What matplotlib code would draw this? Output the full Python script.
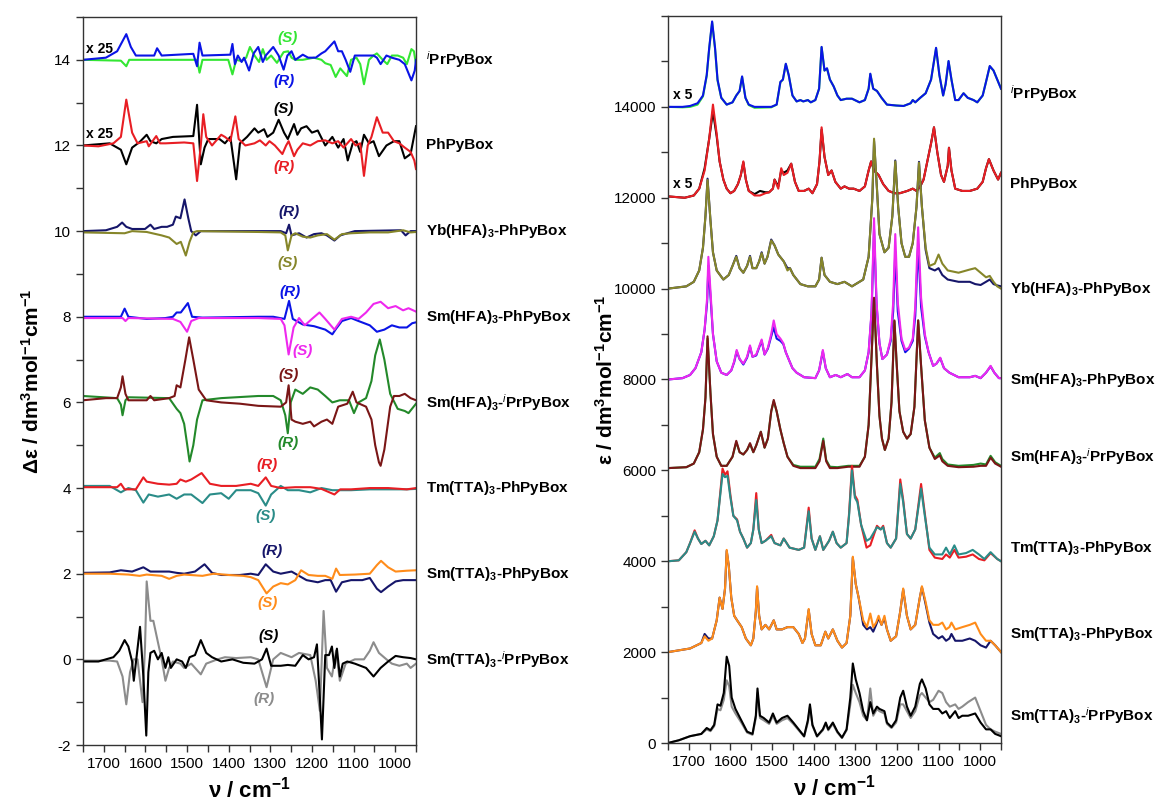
import matplotlib
matplotlib.use("Agg")
import matplotlib.pyplot as plt
from matplotlib.ticker import MultipleLocator

plt.rcParams["font.family"] = ["Liberation Sans", "DejaVu Sans"]
plt.rcParams["mathtext.fontset"] = "custom"
plt.rcParams["mathtext.rm"] = "Liberation Sans"
plt.rcParams["mathtext.bf"] = "Liberation Sans:bold"
plt.rcParams["mathtext.it"] = "Liberation Sans:italic"
plt.rcParams["axes.unicode_minus"] = False

# ---------------- VCD (left), (wavenumber, delta eps + offset) ----------------
vcd_ipr_R = [(1750, 14.0), (1695, 14.05), (1668, 14.2), (1646, 14.6), (1635, 14.3), (1623, 14.1),
             (1579, 14.1), (1572, 14.27), (1561, 14.1), (1485, 14.14), (1476, 13.85), (1470, 14.4),
             (1463, 14.1), (1396, 14.12), (1391, 14.37), (1385, 13.9), (1378, 14.1), (1369, 13.95),
             (1363, 14.05), (1351, 13.75), (1340, 14.15), (1329, 14.3), (1318, 13.95), (1311, 14.1),
             (1293, 14.3), (1280, 14.1), (1268, 13.77), (1259, 14.1), (1249, 14.2), (1240, 14.0),
             (1222, 14.12), (1209, 14.05), (1191, 14.05), (1177, 14.15), (1168, 14.2), (1146, 14.43),
             (1137, 14.2), (1128, 14.2), (1119, 14.0), (1108, 13.72), (1097, 14.1), (1075, 14.1),
             (1052, 14.1), (1044, 14.05), (1035, 13.9), (1021, 14.1), (1008, 14.05), (990, 14.0),
             (977, 13.9), (961, 13.52), (953, 13.75), (950, 14.0)]
vcd_ipr_S = [(1750, 14.0), (1659, 13.98), (1646, 13.85), (1639, 14.0), (1476, 14.0), (1470, 13.7),
             (1463, 14.0), (1401, 14.0), (1391, 13.66), (1382, 14.0), (1369, 13.97), (1358, 14.05),
             (1349, 14.3), (1338, 14.1), (1327, 13.95), (1318, 14.25), (1309, 14.0), (1298, 14.1),
             (1284, 13.93), (1268, 14.18), (1257, 14.2), (1249, 14.05), (1240, 14.0), (1222, 14.0),
             (1195, 14.05), (1177, 14.0), (1168, 13.92), (1155, 13.88), (1143, 13.6), (1132, 13.8),
             (1116, 13.62), (1106, 14.0), (1093, 14.05), (1084, 13.9), (1075, 13.43), (1063, 14.0),
             (1052, 14.1), (1044, 14.15), (1030, 14.0), (1019, 13.9), (1008, 14.1), (994, 14.1),
             (981, 14.05), (972, 13.9), (961, 14.25), (955, 14.2), (950, 13.9)]
vcd_ph_R = [(1750, 12.0), (1713, 11.98), (1677, 12.05), (1659, 12.2), (1646, 13.07), (1632, 12.3),
            (1619, 12.05), (1597, 12.1), (1592, 11.98), (1574, 12.22), (1565, 12.05), (1552, 12.05),
            (1507, 12.07), (1485, 12.05), (1476, 11.17), (1467, 12.0), (1461, 12.73), (1454, 12.2),
            (1440, 12.0), (1418, 12.25), (1409, 12.2), (1396, 12.1), (1384, 12.68), (1376, 12.15),
            (1360, 12.0), (1338, 12.05), (1325, 12.12), (1311, 12.0), (1302, 12.1), (1289, 12.0),
            (1271, 11.8), (1262, 12.0), (1256, 12.1), (1243, 11.75), (1235, 11.9), (1222, 12.05),
            (1204, 12.0), (1186, 12.1), (1168, 12.12), (1151, 12.05), (1137, 12.1), (1124, 11.95),
            (1106, 12.15), (1095, 12.0), (1084, 12.05), (1075, 11.29), (1066, 12.0), (1057, 12.2),
            (1044, 12.66), (1030, 12.3), (1017, 12.3), (1003, 12.1), (990, 12.05), (977, 11.95),
            (963, 11.85), (954, 11.65), (950, 11.45)]
vcd_ph_S = [(1750, 12.0), (1686, 12.05), (1659, 11.9), (1646, 11.56), (1632, 11.95), (1614, 12.08),
            (1597, 12.25), (1588, 12.1), (1574, 12.05), (1561, 12.15), (1534, 12.2), (1485, 12.22),
            (1476, 12.95), (1467, 11.56), (1458, 11.95), (1449, 12.15), (1422, 12.15), (1409, 12.05),
            (1396, 12.2), (1382, 11.21), (1373, 12.05), (1356, 12.2), (1338, 12.4), (1329, 12.3),
            (1315, 12.38), (1307, 12.2), (1293, 12.3), (1280, 12.6), (1267, 12.3), (1258, 12.15),
            (1243, 12.5), (1235, 12.25), (1226, 12.4), (1213, 12.45), (1200, 12.3), (1186, 12.35),
            (1168, 12.0), (1151, 12.2), (1137, 11.95), (1124, 12.15), (1114, 11.65), (1102, 12.05),
            (1093, 12.1), (1084, 11.85), (1075, 12.25), (1063, 12.05), (1052, 12.1), (1039, 11.75),
            (1021, 12.0), (1003, 12.1), (990, 12.1), (977, 11.7), (963, 11.8), (950, 12.45)]
vcd_yb_R = [(1750, 10.0), (1695, 10.02), (1668, 10.1), (1656, 10.2), (1646, 10.1), (1632, 10.05),
            (1601, 10.05), (1588, 10.15), (1579, 10.05), (1561, 10.1), (1548, 10.1), (1534, 10.15),
            (1527, 10.34), (1516, 10.3), (1506, 10.74), (1497, 10.3), (1490, 10.0), (1479, 9.9),
            (1467, 10.0), (1329, 10.0), (1275, 10.0), (1262, 9.95), (1255, 10.15), (1249, 9.9),
            (1231, 9.95), (1213, 9.85), (1195, 9.93), (1177, 9.95), (1164, 9.9), (1146, 9.78),
            (1132, 9.9), (1115, 9.95), (1097, 10.0), (986, 10.02), (975, 9.9), (963, 10.0), (950, 10.0)]
vcd_yb_S = [(1750, 9.97), (1650, 9.95), (1632, 10.0), (1597, 9.98), (1561, 9.9), (1543, 9.85),
            (1525, 9.7), (1515, 9.75), (1503, 9.43), (1494, 9.75), (1485, 9.97), (1476, 10.0),
            (1329, 9.98), (1275, 9.97), (1264, 9.9), (1258, 9.55), (1249, 9.9), (1240, 9.95),
            (1222, 9.87), (1204, 9.85), (1186, 9.9), (1164, 9.93), (1146, 9.8), (1128, 9.93),
            (1106, 9.95), (1061, 9.97), (1017, 9.97), (981, 10.02), (963, 9.97), (950, 9.98)]
vcd_smhfaph_R = [(1750, 8.0), (1659, 8.0), (1650, 8.19), (1641, 8.0), (1597, 7.95), (1552, 7.97),
                 (1534, 8.0), (1525, 8.1), (1515, 8.1), (1498, 8.32), (1488, 8.0), (1463, 7.98),
                 (1329, 8.0), (1293, 8.0), (1266, 7.95), (1255, 8.37), (1246, 7.95), (1222, 7.82),
                 (1195, 7.78), (1168, 7.7), (1151, 7.59), (1142, 7.72), (1128, 7.9), (1106, 7.97),
                 (1088, 7.9), (1061, 7.8), (1044, 7.65), (1026, 7.7), (1008, 7.8), (990, 7.75),
                 (972, 7.75), (959, 7.85), (950, 7.87)]
vcd_smhfaph_S = [(1750, 7.97), (1655, 7.97), (1648, 7.9), (1641, 7.97), (1534, 7.95), (1516, 7.88),
                 (1500, 7.65), (1490, 7.9), (1472, 7.97), (1329, 7.97), (1275, 7.95), (1266, 7.8),
                 (1256, 7.12), (1244, 7.75), (1231, 7.97), (1217, 7.8), (1200, 7.95), (1182, 8.1),
                 (1168, 7.95), (1146, 7.7), (1128, 7.95), (1106, 8.0), (1088, 7.95), (1070, 8.1),
                 (1052, 8.3), (1035, 8.35), (1017, 8.2), (999, 8.25), (981, 8.15), (968, 8.2),
                 (950, 8.12)]
vcd_smhfaipr_S = [(1750, 6.05), (1695, 6.1), (1668, 6.1), (1659, 6.35), (1655, 6.61), (1648, 6.2),
                  (1641, 6.05), (1597, 6.05), (1588, 6.15), (1579, 6.05), (1543, 6.1), (1530, 6.15),
                  (1525, 6.4), (1516, 6.35), (1504, 7.0), (1495, 7.52), (1485, 7.0), (1472, 6.3),
                  (1454, 6.05), (1418, 6.0), (1373, 5.97), (1329, 5.92), (1275, 5.9), (1262, 6.0),
                  (1256, 6.4), (1249, 5.6), (1240, 5.55), (1222, 5.5), (1204, 5.55), (1195, 5.44),
                  (1177, 5.55), (1164, 5.6), (1151, 5.5), (1137, 5.9), (1115, 5.97), (1102, 6.25),
                  (1093, 6.0), (1070, 5.9), (1057, 5.6), (1048, 5.0), (1039, 4.6), (1035, 4.52),
                  (1026, 4.9), (1012, 5.9), (1003, 6.15), (990, 6.15), (977, 6.2), (963, 6.1),
                  (950, 6.05)]
vcd_smhfaipr_R = [(1750, 6.15), (1668, 6.1), (1659, 5.95), (1655, 5.7), (1648, 6.05), (1641, 6.12),
                  (1543, 6.1), (1525, 5.85), (1516, 5.75), (1507, 5.5), (1498, 4.9), (1494, 4.62),
                  (1485, 5.0), (1476, 5.6), (1463, 6.05), (1418, 6.1), (1329, 6.15), (1293, 6.15),
                  (1275, 6.05), (1264, 5.7), (1258, 5.28), (1251, 6.0), (1240, 6.3), (1222, 6.2),
                  (1204, 6.35), (1186, 6.3), (1168, 6.15), (1151, 6.0), (1133, 6.05), (1111, 6.05),
                  (1099, 5.75), (1088, 6.0), (1070, 6.1), (1057, 6.5), (1048, 7.1), (1037, 7.47),
                  (1026, 7.0), (1012, 6.2), (994, 5.85), (977, 5.8), (968, 5.75), (950, 5.97)]
vcd_tm_R = [(1750, 4.02), (1668, 4.02), (1659, 4.1), (1650, 3.97), (1623, 3.97), (1605, 4.25),
            (1597, 4.15), (1570, 4.1), (1543, 4.08), (1525, 4.1), (1516, 4.2), (1503, 4.15),
            (1490, 4.2), (1465, 4.35), (1445, 4.1), (1418, 4.05), (1382, 4.05), (1347, 4.1),
            (1329, 4.05), (1311, 4.25), (1298, 4.05), (1275, 4.0), (1240, 4.02), (1204, 4.02),
            (1177, 3.98), (1146, 3.85), (1132, 3.97), (1106, 3.97), (1061, 4.0), (1017, 4.0),
            (972, 3.97), (950, 4.0)]
vcd_tm_S = [(1750, 4.05), (1686, 4.05), (1668, 3.95), (1659, 3.9), (1641, 4.0), (1623, 3.95),
            (1605, 3.66), (1592, 3.85), (1570, 3.8), (1543, 3.85), (1525, 3.75), (1507, 3.85),
            (1490, 3.85), (1463, 3.65), (1445, 3.85), (1418, 3.88), (1400, 3.75), (1382, 3.95),
            (1347, 3.95), (1329, 3.88), (1311, 3.59), (1298, 3.85), (1275, 4.05), (1258, 3.95),
            (1231, 3.95), (1204, 3.9), (1177, 4.0), (1151, 3.95), (1106, 3.95), (1061, 3.97),
            (1017, 3.97), (972, 3.97), (950, 3.98)]
vcd_smttaph_R = [(1750, 2.02), (1686, 2.03), (1659, 2.08), (1632, 2.05), (1605, 2.15), (1588, 2.05),
                 (1543, 2.05), (1525, 2.02), (1507, 2.0), (1481, 2.05), (1458, 2.22), (1440, 2.02),
                 (1418, 1.97), (1373, 1.97), (1347, 2.0), (1329, 1.97), (1311, 2.22), (1293, 2.05),
                 (1275, 2.0), (1249, 2.05), (1231, 1.95), (1213, 1.85), (1186, 1.8), (1168, 1.85),
                 (1155, 1.85), (1142, 1.58), (1128, 1.8), (1106, 1.85), (1079, 1.85), (1061, 1.9),
                 (1044, 1.65), (1034, 1.57), (1017, 1.7), (999, 1.82), (981, 1.85), (950, 1.85)]
vcd_smttaph_S = [(1750, 2.0), (1686, 2.0), (1641, 1.98), (1614, 1.95), (1597, 1.98), (1561, 1.95),
                 (1543, 1.88), (1525, 1.95), (1507, 1.98), (1463, 1.95), (1436, 2.0), (1400, 1.97),
                 (1365, 1.95), (1347, 1.92), (1329, 1.85), (1309, 1.54), (1293, 1.7), (1275, 1.78),
                 (1258, 1.75), (1240, 1.85), (1226, 2.08), (1208, 1.97), (1186, 1.95), (1168, 1.95),
                 (1151, 1.88), (1142, 2.12), (1133, 1.97), (1097, 1.98), (1061, 2.0), (1044, 2.2),
                 (1034, 2.3), (1017, 2.15), (999, 2.05), (972, 2.07), (950, 2.08)]
vcd_smttaipr_S = [(1750, -0.05), (1713, -0.05), (1695, 0.0), (1677, 0.05), (1663, 0.2), (1650, 0.45),
                  (1641, 0.3), (1632, -0.05), (1628, -0.5), (1622, 0.0), (1613, 0.76), (1605, -0.4),
                  (1598, -1.78), (1593, -0.3), (1588, 0.15), (1579, 0.2), (1570, 0.0), (1561, 0.15),
                  (1552, -0.2), (1545, 0.05), (1539, -0.2), (1525, 0.0), (1512, -0.05), (1503, -0.2),
                  (1494, 0.05), (1481, 0.1), (1467, 0.45), (1454, 0.15), (1440, 0.05), (1418, -0.05),
                  (1391, 0.0), (1365, -0.08), (1338, -0.1), (1320, 0.0), (1309, 0.25), (1298, -0.15),
                  (1275, -0.15), (1258, -0.13), (1240, -0.15), (1222, 0.1), (1208, 0.0), (1195, 0.05),
                  (1188, 0.35), (1181, -0.9), (1176, -1.87), (1168, 0.1), (1159, 0.1), (1152, 0.3),
                  (1146, -0.2), (1140, 0.25), (1133, -0.4), (1126, -0.1), (1115, -0.05), (1097, -0.1),
                  (1070, -0.2), (1052, -0.4), (1035, -0.2), (1017, -0.05), (999, 0.08), (981, 0.05),
                  (963, 0.03), (950, 0.0)]
vcd_smttaipr_R = [(1750, -0.03), (1686, -0.03), (1668, -0.05), (1655, -0.4), (1646, -1.05), (1637, -0.3),
                  (1628, 0.0), (1619, 0.0), (1607, -1.0), (1601, 0.3), (1597, 1.82), (1588, 0.9),
                  (1581, 0.9), (1570, 0.4), (1561, 0.0), (1552, -0.5), (1543, -0.2), (1534, -0.05),
                  (1516, -0.1), (1507, -0.2), (1490, -0.1), (1467, -0.35), (1454, -0.1), (1427, 0.0),
                  (1409, 0.05), (1382, 0.03), (1347, 0.05), (1329, 0.0), (1309, -0.65), (1293, 0.0),
                  (1275, 0.15), (1249, 0.05), (1231, 0.15), (1204, 0.1), (1191, -0.5), (1181, -1.2),
                  (1172, 1.13), (1164, -0.2), (1152, -0.4), (1142, 0.2), (1133, -0.5), (1119, -0.1),
                  (1097, 0.0), (1075, 0.0), (1061, 0.2), (1052, 0.4), (1039, 0.15), (1021, 0.0),
                  (1008, -0.1), (990, -0.15), (972, -0.1), (963, -0.2), (950, -0.1)]

# ---------------- IR (right), shared wavenumbers per pair ----------------
ir_ipr_x = [1750, 1715, 1697, 1679, 1666, 1657, 1651, 1644, 1637, 1631, 1622, 1609, 1595, 1586, 1578,
            1572, 1564, 1556, 1542, 1502, 1489, 1480, 1474, 1467, 1460, 1451, 1441, 1432, 1425, 1414,
            1407, 1396, 1387, 1381, 1374, 1368, 1361, 1352, 1343, 1335, 1321, 1308, 1290, 1277, 1268,
            1264, 1257, 1248, 1237, 1224, 1202, 1184, 1167, 1162, 1156, 1144, 1131, 1118, 1106, 1098,
            1089, 1083, 1076, 1069, 1060, 1052, 1040, 1030, 1016, 1007, 994, 986, 977, 968, 959, 950]
ir_ipr_R = [14000, 14000, 14020, 14080, 14250, 14700, 15300, 15880, 15300, 14600, 14200, 14050, 14100, 14250, 14350,
            14670, 14200, 14050, 14000, 14000, 14050, 14550, 14600, 14950, 14700, 14250, 14120, 14150, 14120, 14150,
            14100, 14150, 14400, 15320, 14800, 14850, 14600, 14450, 14250, 14150, 14180, 14180, 14100, 14150, 14400,
            14730, 14400, 14350, 14200, 14050, 14030, 14020, 14080, 14150, 14100, 14200, 14300, 14600, 15300, 14700,
            14250, 14500, 15010, 14600, 14150, 14150, 14300, 14200, 14150, 14100, 14250, 14550, 14900, 14800, 14600, 14400]
ir_ipr_S = [14000, 13990, 14000, 14050, 14230, 14680, 15280, 15860, 15280, 14580, 14200, 14050, 14100, 14250, 14350,
            14660, 14200, 14040, 13980, 13990, 14050, 14540, 14600, 14940, 14700, 14250, 14120, 14150, 14120, 14150,
            14100, 14150, 14400, 15310, 14800, 14840, 14600, 14450, 14250, 14150, 14180, 14180, 14100, 14150, 14400,
            14720, 14400, 14350, 14200, 14050, 14030, 14020, 14080, 14150, 14100, 14200, 14300, 14600, 15290, 14700,
            14250, 14500, 15000, 14600, 14150, 14150, 14300, 14200, 14150, 14100, 14250, 14550, 14890, 14800, 14600, 14400]

ir_ph_x = [1750, 1710, 1688, 1675, 1662, 1651, 1642, 1633, 1626, 1617, 1609, 1600, 1591, 1582, 1575,
           1569, 1563, 1556, 1542, 1529, 1516, 1507, 1498, 1494, 1485, 1478, 1472, 1463, 1454, 1445,
           1436, 1423, 1412, 1403, 1392, 1386, 1381, 1374, 1365, 1357, 1348, 1335, 1326, 1315, 1304,
           1290, 1277, 1268, 1262, 1255, 1244, 1233, 1220, 1206, 1193, 1175, 1162, 1153, 1144, 1136,
           1127, 1118, 1111, 1103, 1094, 1087, 1078, 1075, 1069, 1060, 1043, 1025, 1007, 994, 986,
           979, 968, 957, 950]
ir_ph_R = [12030, 12000, 12050, 12200, 12600, 13300, 14050, 13400, 12800, 12400, 12200, 12100, 12150, 12300, 12500,
           12800, 12400, 12150, 12050, 12050, 12100, 12120, 12200, 12400, 12200, 12650, 12500, 12550, 12750, 12350,
           12150, 12150, 12200, 12100, 12300, 12800, 13550, 12900, 12500, 12600, 12350, 12200, 12250, 12200, 12200,
           12150, 12250, 12600, 12800, 12600, 12500, 12300, 12150, 12100, 12100, 12150, 12200, 12150, 12250, 12400,
           12800, 13200, 13550, 13000, 12500, 12350, 12700, 13100, 12600, 12200, 12150, 12150, 12200, 12350, 12650,
           12850, 12600, 12400, 12550]
ir_ph_S = [12030, 12000, 12050, 12200, 12650, 13300, 13900, 13350, 12800, 12400, 12200, 12100, 12150, 12300, 12500,
           12780, 12400, 12150, 12080, 12150, 12120, 12120, 12200, 12400, 12250, 12600, 12550, 12600, 12750, 12350,
           12150, 12150, 12200, 12100, 12300, 12800, 13500, 12900, 12500, 12600, 12350, 12200, 12250, 12200, 12200,
           12150, 12250, 12600, 12800, 12600, 12500, 12300, 12150, 12100, 12100, 12150, 12200, 12150, 12250, 12400,
           12800, 13200, 13550, 13000, 12500, 12350, 12700, 13100, 12600, 12200, 12150, 12150, 12200, 12350, 12650,
           12850, 12600, 12400, 12550]

ir_yb_x = [1750, 1706, 1688, 1675, 1666, 1660, 1655, 1648, 1642, 1633, 1617, 1604, 1595, 1586, 1578,
           1569, 1560, 1553, 1547, 1538, 1531, 1525, 1518, 1511, 1502, 1494, 1485, 1472, 1463, 1457,
           1449, 1432, 1414, 1396, 1387, 1381, 1374, 1361, 1343, 1326, 1308, 1281, 1268, 1259, 1255,
           1248, 1242, 1230, 1220, 1211, 1204, 1197, 1189, 1180, 1171, 1162, 1153, 1147, 1140, 1131,
           1122, 1109, 1100, 1091, 1078, 1052, 1025, 1012, 999, 986, 977, 968, 959, 950]
ir_yb_S = [10000, 10050, 10150, 10400, 10900, 11600, 12390, 11500, 10800, 10400, 10200, 10300, 10500, 10700, 10450,
           10350, 10500, 10700, 10450, 10450, 10600, 10780, 10550, 10700, 11060, 10950, 10750, 10600, 10400, 10450,
           10300, 10100, 10050, 10050, 10200, 10680, 10300, 10150, 10100, 10150, 10050, 10200, 10700, 12000, 13300,
           12200, 11200, 10800, 10900, 11600, 12800, 11800, 11000, 10700, 10700, 11000, 11800, 12770, 11800, 10900,
           10500, 10550, 10750, 10550, 10400, 10350, 10420, 10450, 10350, 10250, 10280, 10150, 10050, 10000]
ir_yb_R = [10000, 10050, 10150, 10400, 10900, 11600, 12420, 11500, 10800, 10400, 10200, 10300, 10500, 10720, 10450,
           10350, 10500, 10720, 10450, 10450, 10600, 10800, 10550, 10700, 11080, 10950, 10750, 10600, 10450, 10450,
           10300, 10100, 10050, 10050, 10200, 10680, 10300, 10150, 10100, 10150, 10050, 10200, 10700, 12000, 13250,
           12200, 11200, 10800, 10900, 11600, 12820, 11800, 11000, 10700, 10700, 11000, 11800, 12790, 11800, 10850,
           10450, 10400, 10450, 10300, 10200, 10150, 10150, 10100, 10080, 10150, 10200, 10100, 10070, 10050]

ir_smhfaph_x = [1750, 1715, 1697, 1684, 1670, 1662, 1656, 1653, 1647, 1642, 1633, 1622, 1609, 1598, 1591,
                1585, 1578, 1569, 1560, 1553, 1547, 1538, 1532, 1525, 1518, 1510, 1502, 1496, 1489, 1480,
                1473, 1467, 1458, 1451, 1441, 1423, 1396, 1387, 1378, 1371, 1361, 1347, 1335, 1319, 1308,
                1290, 1277, 1268, 1261, 1255, 1249, 1242, 1235, 1224, 1215, 1209, 1204, 1198, 1189, 1180,
                1171, 1162, 1156, 1149, 1142, 1133, 1124, 1113, 1105, 1096, 1087, 1074, 1052, 1025, 1012,
                999, 986, 975, 966, 955, 950]
ir_smhfaph_S = [8000, 8030, 8100, 8250, 8600, 9100, 9800, 10700, 9800, 9000, 8400, 8150, 8100, 8200, 8400,
                8650, 8450, 8350, 8500, 8750, 8500, 8550, 8700, 8880, 8550, 8700, 9000, 9300, 9000, 8900,
                8800, 8600, 8400, 8250, 8150, 8050, 8030, 8200, 8650, 8250, 8050, 8100, 8050, 8120, 8050,
                8050, 8200, 8600, 9500, 11550, 9700, 8800, 8450, 8550, 8900, 9700, 11200, 9700, 8900, 8650,
                8700, 8900, 9600, 11350, 9800, 9000, 8600, 8300, 8350, 8480, 8250, 8150, 8050, 8050, 8080,
                8030, 8150, 8300, 8150, 8030, 8030]
ir_smhfaph_R = [8000, 8030, 8100, 8250, 8600, 9100, 9700, 10500, 9700, 9000, 8400, 8150, 8100, 8200, 8380,
                8620, 8450, 8330, 8480, 8720, 8500, 8530, 8680, 8850, 8550, 8680, 8950, 9150, 8900, 8850,
                8780, 8600, 8400, 8250, 8150, 8050, 8030, 8200, 8620, 8250, 8050, 8100, 8050, 8120, 8050,
                8050, 8200, 8600, 9450, 11300, 9650, 8800, 8450, 8550, 8850, 9500, 10820, 9500, 8850, 8600,
                8680, 8850, 9400, 10980, 9600, 8950, 8600, 8300, 8350, 8470, 8250, 8150, 8050, 8050, 8080,
                8030, 8150, 8290, 8150, 8030, 8030]

ir_smhfaipr_x = [1750, 1706, 1688, 1675, 1666, 1660, 1655, 1648, 1642, 1633, 1622, 1609, 1595, 1586, 1578,
                 1569, 1560, 1553, 1545, 1538, 1527, 1518, 1510, 1502, 1496, 1489, 1480, 1472, 1463, 1449,
                 1432, 1396, 1386, 1377, 1370, 1361, 1343, 1317, 1290, 1277, 1268, 1261, 1255, 1248, 1242,
                 1236, 1229, 1220, 1213, 1206, 1201, 1194, 1185, 1176, 1167, 1158, 1149, 1142, 1133, 1122,
                 1109, 1097, 1091, 1078, 1052, 1016, 999, 986, 975, 964, 950]
ir_smhfaipr_S = [6050, 6070, 6150, 6400, 6900, 7600, 8950, 7700, 6800, 6300, 6100, 6100, 6300, 6650, 6400,
                 6350, 6450, 6600, 6400, 6550, 6850, 6500, 6700, 7300, 7550, 7300, 6900, 6600, 6300, 6100,
                 6050, 6050, 6200, 6650, 6200, 6050, 6050, 6080, 6080, 6300, 7000, 8500, 9800, 8300, 7200,
                 6700, 6450, 6700, 7500, 9300, 8400, 7300, 6850, 6700, 6800, 7400, 9300, 8300, 7100, 6500,
                 6250, 6330, 6200, 6100, 6070, 6080, 6100, 6100, 6280, 6150, 6080]
ir_smhfaipr_R = [6050, 6070, 6150, 6400, 6900, 7600, 8900, 7700, 6800, 6300, 6100, 6100, 6300, 6620, 6400,
                 6350, 6450, 6580, 6400, 6550, 6850, 6500, 6700, 7300, 7520, 7300, 6900, 6600, 6300, 6120,
                 6080, 6080, 6250, 6700, 6230, 6080, 6070, 6100, 6100, 6300, 7000, 8500, 9780, 8300, 7200,
                 6700, 6450, 6700, 7500, 9280, 8400, 7300, 6850, 6700, 6800, 7400, 9300, 8300, 7100, 6500,
                 6280, 6380, 6250, 6130, 6100, 6120, 6150, 6130, 6320, 6180, 6100]

ir_tm_x = [1750, 1724, 1706, 1697, 1686, 1678, 1670, 1660, 1651, 1640, 1631, 1624, 1619, 1613, 1607,
           1600, 1593, 1584, 1577, 1569, 1560, 1551, 1545, 1538, 1532, 1525, 1516, 1502, 1494, 1480,
           1472, 1458, 1436, 1423, 1412, 1405, 1396, 1385, 1377, 1363, 1354, 1345, 1335, 1321, 1315,
           1308, 1301, 1295, 1286, 1273, 1264, 1248, 1239, 1233, 1224, 1215, 1202, 1192, 1185, 1176,
           1167, 1156, 1142, 1133, 1122, 1109, 1091, 1082, 1073, 1062, 1052, 1034, 1018, 1003, 990,
           975, 959, 950]
ir_tm_S = [4000, 4020, 4200, 4400, 4650, 4500, 4380, 4450, 4350, 4550, 4900, 5500, 5920, 5850, 5880,
           5400, 5000, 4900, 4650, 4500, 4300, 4400, 4700, 5350, 4700, 4400, 4450, 4550, 4400, 4350,
           4500, 4300, 4250, 4300, 5100, 4500, 4250, 4550, 4250, 4450, 4650, 4400, 4300, 4400, 5000,
           6000, 5400, 5300, 4800, 4450, 4500, 4750, 4700, 4750, 4400, 4300, 4500, 5700, 5300, 4600,
           4500, 4700, 5600, 5000, 4300, 4150, 4150, 4300, 4150, 4350, 4150, 4180, 4250, 4150, 4050,
           4200, 4050, 4000]
ir_tm_R = [4000, 4020, 4200, 4400, 4680, 4500, 4380, 4450, 4350, 4550, 4900, 5550, 6040, 5900, 5980,
           5450, 5000, 4920, 4650, 4500, 4300, 4400, 4700, 5500, 4700, 4400, 4450, 4580, 4400, 4350,
           4500, 4300, 4250, 4300, 5180, 4500, 4250, 4550, 4250, 4450, 4650, 4400, 4300, 4400, 5050,
           6100, 5450, 5350, 4800, 4300, 4350, 4780, 4700, 4780, 4400, 4300, 4500, 5800, 5350, 4600,
           4500, 4700, 5700, 5050, 4250, 4080, 4050, 4150, 4080, 4250, 4080, 4100, 4150, 4050, 4020,
           4180, 4050, 4000]

ir_smttaph_x = [1750, 1697, 1670, 1662, 1653, 1644, 1633, 1626, 1619, 1613, 1609, 1604, 1598, 1591, 1584,
                1573, 1563, 1551, 1545, 1539, 1536, 1531, 1525, 1516, 1507, 1496, 1489, 1476, 1463, 1449,
                1436, 1427, 1421, 1412, 1405, 1396, 1383, 1372, 1365, 1354, 1343, 1332, 1321, 1312, 1306,
                1299, 1292, 1281, 1272, 1264, 1257, 1250, 1244, 1237, 1230, 1224, 1215, 1202, 1192, 1185,
                1176, 1167, 1156, 1145, 1140, 1131, 1122, 1113, 1100, 1091, 1082, 1074, 1069, 1060, 1043,
                1025, 1012, 999, 986, 975, 964, 950]
ir_smttaph_S = [2000, 2080, 2200, 2350, 2250, 2300, 2700, 3200, 2950, 3400, 4250, 3900, 3200, 2800, 2700,
                2550, 2300, 2150, 2300, 2900, 3450, 2800, 2500, 2600, 2500, 2700, 2500, 2500, 2550, 2550,
                2400, 2200, 2300, 2950, 2400, 2150, 2150, 2450, 2300, 2500, 2250, 2100, 2200, 2800, 4100,
                3500, 3200, 2700, 2550, 2850, 2550, 2650, 2800, 2600, 2800, 2500, 2250, 2350, 2900, 3400,
                2800, 2500, 2600, 3200, 3450, 3100, 2700, 2600, 2600, 2650, 2500, 2550, 2650, 2500, 2550,
                2600, 2650, 2400, 2250, 2250, 2150, 2000]
ir_smttaph_R = [2000, 2080, 2200, 2400, 2300, 2300, 2700, 3200, 2950, 3400, 4230, 3900, 3200, 2800, 2700,
                2550, 2300, 2150, 2300, 2900, 3430, 2800, 2500, 2600, 2500, 2700, 2500, 2500, 2550, 2550,
                2400, 2200, 2300, 2930, 2400, 2150, 2150, 2450, 2300, 2500, 2250, 2100, 2200, 2800, 4080,
                3500, 3200, 2600, 2500, 2550, 2450, 2600, 2750, 2600, 2750, 2500, 2250, 2350, 2900, 3380,
                2800, 2500, 2600, 3200, 3430, 3050, 2650, 2400, 2300, 2350, 2250, 2300, 2400, 2250, 2250,
                2300, 2250, 2150, 2100, 2250, 2150, 2000]

ir_smttaipr_x = [1750, 1724, 1697, 1670, 1657, 1648, 1639, 1631, 1624, 1616, 1609, 1603, 1597, 1588, 1574,
                 1560, 1547, 1539, 1535, 1529, 1520, 1507, 1498, 1489, 1476, 1463, 1449, 1436, 1423, 1414,
                 1409, 1403, 1392, 1378, 1371, 1365, 1354, 1343, 1332, 1321, 1312, 1306, 1299, 1290, 1281,
                 1272, 1264, 1257, 1248, 1242, 1230, 1224, 1213, 1202, 1192, 1185, 1176, 1167, 1156, 1145,
                 1140, 1131, 1122, 1113, 1100, 1091, 1082, 1073, 1060, 1052, 1043, 1029, 1012, 999, 986,
                 975, 964, 950]
ir_smttaipr_S = [0, 60, 150, 200, 330, 280, 400, 850, 820, 1100, 1900, 1700, 1000, 750, 500,
                 250, 200, 600, 1200, 600, 550, 450, 650, 450, 550, 600, 450, 300, 150, 500,
                 850, 400, 150, 300, 450, 300, 450, 250, 120, 300, 1000, 1750, 1400, 1100, 700,
                 500, 900, 650, 800, 750, 700, 450, 350, 500, 1000, 1150, 800, 600, 800, 1300,
                 1400, 1200, 850, 750, 750, 650, 700, 550, 700, 550, 600, 600, 650, 450, 300,
                 300, 200, 150]
ir_smttaipr_R = [0, 60, 150, 200, 300, 260, 370, 750, 720, 950, 1380, 1250, 800, 650, 450,
                 230, 180, 550, 1100, 550, 500, 420, 600, 420, 500, 550, 420, 280, 140, 450,
                 800, 380, 140, 280, 420, 280, 420, 230, 110, 280, 850, 1280, 1100, 900, 600,
                 500, 1200, 600, 750, 700, 650, 420, 330, 450, 850, 850, 700, 550, 700, 1050,
                 1100, 1000, 900, 950, 1150, 1100, 900, 800, 850, 750, 800, 900, 1000, 700, 400,
                 300, 250, 200]

compounds = [r"$^{\mathit{i}}$PrPyBox", "PhPyBox", r"Yb(HFA)$_\mathbf{3}$-PhPyBox",
             r"Sm(HFA)$_\mathbf{3}$-PhPyBox", r"Sm(HFA)$_\mathbf{3}$-$^{\mathit{i}}$PrPyBox",
             r"Tm(TTA)$_\mathbf{3}$-PhPyBox", r"Sm(TTA)$_\mathbf{3}$-PhPyBox",
             r"Sm(TTA)$_\mathbf{3}$-$^{\mathit{i}}$PrPyBox"]
vcd_offsets = [14, 12, 10, 8, 6, 4, 2, 0]
ir_label_y = [14300, 12300, 10000, 8000, 6300, 4300, 2400, 600]

BLUE, GREEN, RED, BLACK = "#0a14e6", "#33e633", "#e81e24", "#000000"
NAVY, OLIVE, MAGENTA = "#16166a", "#86862a", "#ee28ee"
BROWN, DKGREEN, TEAL = "#7a1616", "#23892a", "#2a8c88"
ORANGE, GRAY = "#ff8c1a", "#8c8c8c"

# draw order: first item underneath
vcd_curves = [(vcd_ipr_S, GREEN), (vcd_ipr_R, BLUE),
              (vcd_ph_S, BLACK), (vcd_ph_R, RED),
              (vcd_yb_R, NAVY), (vcd_yb_S, OLIVE),
              (vcd_smhfaph_R, BLUE), (vcd_smhfaph_S, MAGENTA),
              (vcd_smhfaipr_R, DKGREEN), (vcd_smhfaipr_S, BROWN),
              (vcd_tm_S, TEAL), (vcd_tm_R, RED),
              (vcd_smttaph_R, NAVY), (vcd_smttaph_S, ORANGE),
              (vcd_smttaipr_R, GRAY), (vcd_smttaipr_S, BLACK)]
ir_curves = [(ir_ipr_x, ir_ipr_S, GREEN), (ir_ipr_x, ir_ipr_R, BLUE),
             (ir_ph_x, ir_ph_S, BLACK), (ir_ph_x, ir_ph_R, RED),
             (ir_yb_x, ir_yb_R, NAVY), (ir_yb_x, ir_yb_S, OLIVE),
             (ir_smhfaph_x, ir_smhfaph_R, BLUE), (ir_smhfaph_x, ir_smhfaph_S, MAGENTA),
             (ir_smhfaipr_x, ir_smhfaipr_R, DKGREEN), (ir_smhfaipr_x, ir_smhfaipr_S, BROWN),
             (ir_tm_x, ir_tm_R, RED), (ir_tm_x, ir_tm_S, TEAL),
             (ir_smttaph_x, ir_smttaph_R, NAVY), (ir_smttaph_x, ir_smttaph_S, ORANGE),
             (ir_smttaipr_x, ir_smttaipr_R, GRAY), (ir_smttaipr_x, ir_smttaipr_S, BLACK)]

# (R)/(S) annotations on the VCD panel
rs_labels = [("(S)", 1258, 14.5, GREEN), ("(R)", 1268, 13.5, BLUE),
             ("(S)", 1267, 12.85, BLACK), ("(R)", 1268, 11.5, RED),
             ("(R)", 1255, 10.45, NAVY), ("(S)", 1258, 9.26, OLIVE),
             ("(R)", 1253, 8.58, BLUE), ("(S)", 1222, 7.2, MAGENTA),
             ("(S)", 1256, 6.65, BROWN), ("(R)", 1258, 5.05, DKGREEN),
             ("(R)", 1307, 4.55, RED), ("(S)", 1311, 3.35, TEAL),
             ("(R)", 1295, 2.53, NAVY), ("(S)", 1307, 1.32, ORANGE),
             ("(S)", 1304, 0.55, BLACK), ("(R)", 1315, -0.92, GRAY)]

fig = plt.figure(figsize=(11.56, 8.05), dpi=100)
W, H = 1156, 805
ax1 = fig.add_axes([83 / W, (H - 745) / H, 333 / W, 728 / H])
ax2 = fig.add_axes([668 / W, (H - 743) / H, 333 / W, 727 / H])


def style_axis(ax):
    ax.set_xlim(1750, 950)
    ax.xaxis.set_major_locator(MultipleLocator(100))
    ax.xaxis.set_minor_locator(MultipleLocator(50))
    ax.tick_params(which="both", direction="out", length=5, width=1, color="#333333",
                   labelsize=11, top=False, right=False)
    for s in ax.spines.values():
        s.set_linewidth(1.0)
        s.set_color("#333333")
    ax.set_xticks(range(1000, 1701, 100))
    ax.set_xlabel(r"$\mathbf{\nu}$ / cm$^{\mathbf{-1}}$", fontsize=16, fontweight="bold", labelpad=4)


for pts, c in vcd_curves:
    xs, ys = zip(*pts)
    ax1.plot(xs, ys, color=c, lw=1.5)
style_axis(ax1)
ax1.set_ylim(-2, 15)
ax1.yaxis.set_major_locator(MultipleLocator(2))
ax1.yaxis.set_minor_locator(MultipleLocator(1))
ax1.set_ylabel(r"Δε / dm$^\mathbf{3}$mol$^\mathbf{-1}$cm$^\mathbf{-1}$", fontsize=15,
               fontweight="bold", labelpad=8)
for t, x, y, c in rs_labels:
    ax1.text(x, y, t, color=c, fontsize=11, fontweight="bold", style="italic",
             ha="center", va="center")
ax1.text(1743, 14.25, "x 25", fontsize=10, fontweight="bold", ha="left", va="center")
ax1.text(1743, 12.27, "x 25", fontsize=10, fontweight="bold", ha="left", va="center")
for name, y in zip(compounds, vcd_offsets):
    ax1.text(926, y, name, fontsize=11, fontweight="bold", ha="left", va="center")

for xs, ys, c in ir_curves:
    ax2.plot(xs, ys, color=c, lw=1.5)
style_axis(ax2)
ax2.set_ylim(0, 16000)
ax2.set_yticks(range(0, 14001, 2000))
ax2.yaxis.set_minor_locator(MultipleLocator(1000))
ax2.set_ylabel(r"ε / dm$^\mathbf{3}$mol$^\mathbf{-1}$cm$^\mathbf{-1}$", fontsize=15,
               fontweight="bold", labelpad=-2)
ax2.text(1738, 14270, "x 5", fontsize=10, fontweight="bold", ha="left", va="center")
ax2.text(1738, 12300, "x 5", fontsize=10, fontweight="bold", ha="left", va="center")
for name, y in zip(compounds, ir_label_y):
    ax2.text(928, y, name, fontsize=11, fontweight="bold", ha="left", va="center")

fig.savefig("out.png", dpi=100)
